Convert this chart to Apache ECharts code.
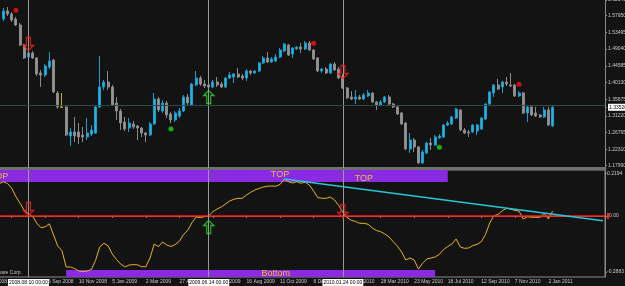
<!DOCTYPE html>
<html>
<head>
<meta charset="utf-8">
<script src="https://cdn.jsdelivr.net/npm/echarts@6/dist/echarts.min.js"></script>
<style>
html, body { margin: 0; padding: 0; background: #131313; }
#main { width: 625px; height: 286px; }
</style>
</head>
<body>
<div id="main"></div>
<script>
// weekly bars, first category is the week of 25 May 2008 (off screen)
const firstWeek = Date.UTC(2008, 4, 25);
const weekCount = 150;
const candleStart = 6; // week of 6 Jul 2008

// [open, close, low, high]
const candles = [
  [1.5707, 1.5921, 1.5654, 1.6001], [1.5921, 1.5841, 1.5787, 1.6027], [1.5841, 1.5680, 1.5627, 1.5894],
  [1.5707, 1.5547, 1.5520, 1.5761], [1.5547, 1.5014, 1.4987, 1.5600], [1.5014, 1.4667, 1.4640, 1.5040],
  [1.4693, 1.4800, 1.4667, 1.4880], [1.4800, 1.4667, 1.4640, 1.4853], [1.4667, 1.4240, 1.4187, 1.4693],
  [1.4267, 1.4213, 1.3893, 1.4347], [1.4213, 1.4453, 1.4160, 1.4507], [1.4427, 1.4587, 1.4373, 1.4827],
  [1.4613, 1.3760, 1.3733, 1.4640], [1.3733, 1.3360, 1.3306, 1.3786], [1.3360, 1.3350, 1.3333, 1.3733],
  [1.3360, 1.2613, 1.2586, 1.3386], [1.2586, 1.2693, 1.2319, 1.2799], [1.2693, 1.2586, 1.2426, 1.3093],
  [1.2693, 1.2559, 1.2373, 1.2933], [1.2613, 1.2559, 1.2426, 1.2826], [1.2559, 1.2666, 1.2479, 1.3066],
  [1.2639, 1.2746, 1.2586, 1.2879], [1.2666, 1.3360, 1.2639, 1.3413], [1.3360, 1.3893, 1.3333, 1.4720],
  [1.3893, 1.4027, 1.3813, 1.4080], [1.4027, 1.3893, 1.3813, 1.4320], [1.3893, 1.3413, 1.3386, 1.3947],
  [1.3466, 1.3253, 1.3013, 1.3626], [1.3253, 1.2933, 1.2746, 1.3306], [1.2959, 1.2773, 1.2719, 1.3093],
  [1.2799, 1.2933, 1.2693, 1.3066], [1.2906, 1.2826, 1.2773, 1.2986], [1.2853, 1.2799, 1.2479, 1.2879],
  [1.2799, 1.2666, 1.2559, 1.2826], [1.2666, 1.2613, 1.2426, 1.2693], [1.2613, 1.2906, 1.2586, 1.2959],
  [1.2906, 1.3573, 1.2879, 1.3733], [1.3573, 1.3280, 1.3226, 1.3626], [1.3253, 1.3466, 1.3200, 1.3546],
  [1.3466, 1.3146, 1.3066, 1.3520], [1.3173, 1.3013, 1.2933, 1.3226], [1.3013, 1.3200, 1.2959, 1.3253],
  [1.3119, 1.3253, 1.3066, 1.3333], [1.3253, 1.3626, 1.3226, 1.3680], [1.3626, 1.3466, 1.3413, 1.3706],
  [1.3413, 1.3973, 1.3386, 1.4000], [1.3947, 1.4133, 1.3920, 1.4320], [1.4133, 1.3973, 1.3920, 1.4187],
  [1.3973, 1.3920, 1.3866, 1.4080], [1.3947, 1.3893, 1.3840, 1.4000], [1.3893, 1.4027, 1.3866, 1.4080],
  [1.4027, 1.3947, 1.3893, 1.4160], [1.3973, 1.3893, 1.3866, 1.4027], [1.3893, 1.4133, 1.3866, 1.4160],
  [1.4133, 1.4213, 1.4107, 1.4293], [1.4160, 1.4240, 1.4000, 1.4267], [1.4240, 1.4160, 1.4133, 1.4400],
  [1.4187, 1.4133, 1.4080, 1.4240], [1.4133, 1.4320, 1.4053, 1.4373], [1.4320, 1.4267, 1.4213, 1.4347],
  [1.4267, 1.4320, 1.4240, 1.4347], [1.4320, 1.4533, 1.4293, 1.4560], [1.4533, 1.4667, 1.4507, 1.4720],
  [1.4667, 1.4560, 1.4533, 1.4827], [1.4560, 1.4640, 1.4533, 1.4693], [1.4587, 1.4693, 1.4560, 1.4773],
  [1.4693, 1.4880, 1.4667, 1.4933], [1.4853, 1.5040, 1.4827, 1.5067], [1.5014, 1.4747, 1.4720, 1.5040],
  [1.4773, 1.4933, 1.4667, 1.4960], [1.4907, 1.4960, 1.4880, 1.4987], [1.4960, 1.4907, 1.4800, 1.5067],
  [1.4907, 1.5067, 1.4880, 1.5120], [1.5067, 1.4880, 1.4853, 1.5120], [1.4880, 1.4640, 1.4613, 1.4907],
  [1.4667, 1.4320, 1.4293, 1.4693], [1.4320, 1.4373, 1.4267, 1.4400], [1.4373, 1.4267, 1.4240, 1.4427],
  [1.4267, 1.4507, 1.4240, 1.4533], [1.4507, 1.4347, 1.4320, 1.4560], [1.4373, 1.4133, 1.4107, 1.4427],
  [1.4160, 1.3866, 1.3840, 1.4240], [1.3866, 1.3600, 1.3573, 1.3893], [1.3626, 1.3573, 1.3546, 1.3786],
  [1.3573, 1.3626, 1.3440, 1.3813], [1.3626, 1.3573, 1.3546, 1.3680], [1.3573, 1.3680, 1.3546, 1.3733],
  [1.3653, 1.3733, 1.3626, 1.3813], [1.3733, 1.3493, 1.3466, 1.3760], [1.3493, 1.3413, 1.3280, 1.3520],
  [1.3413, 1.3493, 1.3386, 1.3546], [1.3493, 1.3626, 1.3466, 1.3653], [1.3626, 1.3440, 1.3413, 1.3680],
  [1.3440, 1.3360, 1.3333, 1.3466], [1.3360, 1.3173, 1.3146, 1.3386], [1.3200, 1.2906, 1.2879, 1.3226],
  [1.2933, 1.2239, 1.2213, 1.2959], [1.2239, 1.2479, 1.2133, 1.2666], [1.2479, 1.2293, 1.2159, 1.2533],
  [1.2293, 1.1866, 1.1839, 1.2319], [1.1866, 1.2159, 1.1839, 1.2213], [1.2133, 1.2399, 1.2106, 1.2426],
  [1.2399, 1.2346, 1.2213, 1.2533], [1.2346, 1.2559, 1.2319, 1.2613], [1.2533, 1.2586, 1.2506, 1.2639],
  [1.2559, 1.2879, 1.2533, 1.2906], [1.2879, 1.2933, 1.2853, 1.2986], [1.2906, 1.3093, 1.2879, 1.3119],
  [1.3066, 1.3306, 1.3039, 1.3333], [1.3280, 1.2746, 1.2719, 1.3306], [1.2746, 1.2666, 1.2639, 1.2799],
  [1.2693, 1.2666, 1.2559, 1.2746], [1.2693, 1.2879, 1.2666, 1.2906], [1.2719, 1.2879, 1.2613, 1.2906],
  [1.2773, 1.3066, 1.2746, 1.3093], [1.3039, 1.3440, 1.3013, 1.3466], [1.3440, 1.3760, 1.3413, 1.3786],
  [1.3733, 1.3947, 1.3626, 1.3973], [1.3947, 1.3840, 1.3813, 1.4107], [1.3893, 1.4027, 1.3733, 1.4053],
  [1.4027, 1.3973, 1.3920, 1.4160], [1.3947, 1.3920, 1.3893, 1.4267], [1.3947, 1.3653, 1.3626, 1.3973],
  [1.3653, 1.3733, 1.3626, 1.3786], [1.3733, 1.3200, 1.3173, 1.3760], [1.3200, 1.3360, 1.2959, 1.3386],
  [1.3360, 1.3146, 1.3119, 1.3386], [1.3200, 1.3119, 1.3093, 1.3360], [1.3146, 1.3093, 1.3066, 1.3173],
  [1.3093, 1.3280, 1.3066, 1.3360], [1.3280, 1.2879, 1.2853, 1.3360], [1.2853, 1.3352, 1.2826, 1.3386]
];
const dojiIndex = [14];
const lastPrice = 1.3352;

// oscillator, first value sits on the week before 6 Jul 2008
const oscStart = 5;
const oscillator = [
  0.1645, 0.1763, 0.1670, 0.1439, 0.1002, 0.0653, 0.0293, 0.0103, -0.0015, -0.0375,
  -0.0601, -0.0555, -0.0401, -0.0977, -0.1542, -0.1784, -0.2621, -0.2621, -0.2699, -0.2827,
  -0.2858, -0.2827, -0.2750, -0.2287, -0.1593, -0.1403, -0.1527, -0.1953, -0.2236, -0.2467,
  -0.2621, -0.2519, -0.2498, -0.2508, -0.2606, -0.2606, -0.2159, -0.1439, -0.1578, -0.1336,
  -0.1491, -0.1568, -0.1465, -0.1300, -0.0951, -0.0735, -0.0344, -0.0051, -0.0077, -0.0036,
  0.0010, 0.0221, 0.0360, 0.0463, 0.0617, 0.0771, 0.0858, 0.0910, 0.0910, 0.1080,
  0.1218, 0.1336, 0.1414, 0.1491, 0.1532, 0.1542, 0.1530, 0.1619, 0.1902, 0.1763,
  0.1696, 0.1763, 0.1680, 0.1740, 0.1593, 0.1285, 0.0946, 0.0910, 0.0910, 0.0977,
  0.0822, 0.0540, 0.0190, -0.0077, -0.0221, -0.0283, -0.0375, -0.0375, -0.0427, -0.0617,
  -0.0745, -0.0807, -0.0925, -0.1079, -0.1321, -0.1552, -0.1850, -0.2262, -0.2159, -0.2262,
  -0.2724, -0.2431, -0.2210, -0.2159, -0.2107, -0.1969, -0.1722, -0.1568, -0.1439, -0.1182,
  -0.1593, -0.1660, -0.1645, -0.1516, -0.1455, -0.1326, -0.0951, -0.0360, 0.0015, 0.0077,
  0.0267, 0.0396, 0.0350, 0.0293, 0.0249, -0.0154, -0.0036, -0.0067, -0.0067, -0.0067,
  0.0129, -0.0150, 0.0250
];

// time axis labels, one every 8 weeks from the first category
const xTickLabels = [
  '26 May 2008', '21 Jul 2008', '15 Sep 2008', '10 Nov 2008', '5 Jan 2009', '2 Mar 2009',
  '27 Apr 2009', '21 Jun 2009', '16 Aug 2009', '11 Oct 2009', '6 Dec 2009', '31 Jan 2010',
  '28 Mar 2010', '23 May 2010', '18 Jul 2010', '12 Sep 2010', '7 Nov 2010', '2 Jan 2011'
];
const xTickStep = 8;

const priceRange = [1.1732, 1.6214];
const priceTicks = [1.6214, 1.5795, 1.53495, 1.4904, 1.44585, 1.4013, 1.35675, 1.3122, 1.26765, 1.2231, 1.1799, lastPrice];
const oscRange = [-0.3135, 0.2364];
const oscTicks = [0.2194, 0, -0.2883];
const oscTickLabels = ['0.2194', '0.00', '-0.2883'];

// week index (from firstWeek) of the vertical lines and their labels
const vlineWeeks = [12, 55, 87];
const vlineLabels = ['2008.08.10 00:00', '2009.06.14 00:00', '2010.01.24 00:00'];

const peakDots = [[9, 1.5939], [80, 1.5059], [129, 1.3965]];
const troughDots = [[46, 1.2773], [110, 1.2284]];
const sellArrowsPrice = [[12, 1.5040], [87, 1.4293]];
const buyArrowsPrice = [[55, 1.3626]];
const sellArrowsOsc = [[12, 0.0360], [87, 0.0257]];
const buyArrowsOsc = [[55, -0.0565]];

// [fromWeek, toWeek, upper, lower]
const topBand = [0, 112, oscRange[1], 0.1748];
const bottomBand = [21, 109, -0.2776, oscRange[0]];
const trendLine = [[73, 0.1902], [149, -0.0242]];
const zoneTexts = [['TOP', 5, 0.2005], ['TOP', 72, 0.2107], ['TOP', 92, 0.1938], ['Bottom', 71, -0.2945]];

const months = ['Jan', 'Feb', 'Mar', 'Apr', 'May', 'Jun', 'Jul', 'Aug', 'Sep', 'Oct', 'Nov', 'Dec'];
const categories = [];
for (let j = 0; j < weekCount; j++) {
    const d = new Date(firstWeek + j * 7 * 86400000);
    categories.push(d.getUTCDate() + ' ' + months[d.getUTCMonth()] + ' ' + d.getUTCFullYear());
}

const dojiColor = '#c8ae10';
const candleData = categories.map(function (c, j) {
    const k = j - candleStart;
    const v = candles[k];
    if (!v) return ['-', '-', '-', '-'];
    if (dojiIndex.indexOf(k) >= 0) {
        return { value: v, itemStyle: { color: dojiColor, color0: dojiColor, borderColor: dojiColor, borderColor0: dojiColor } };
    }
    return v;
});
const oscData = categories.map(function (c, j) {
    const v = oscillator[j - oscStart];
    return v === undefined ? '-' : v;
});
const toPoints = arr => arr.map(p => [categories[p[0]], p[1]]);
const showTick = idx => idx % xTickStep === 0 && idx / xTickStep < xTickLabels.length;

const gray = '#8a8a8a';
const textGray = '#c8c8c8';
const font = 'Liberation Sans, Arial, sans-serif';
const downArrow = 'path://M3,0 L7,0 L7,8 L10,8 L5,13 L0,8 L3,8 Z';
const upArrow = 'path://M5,0 L10,5 L7,5 L7,13 L3,13 L3,5 L0,5 Z';

function arrowSeries(data, symbol, color, xi) {
    return {
        type: 'scatter', xAxisIndex: xi, yAxisIndex: xi, data: toPoints(data),
        symbol: symbol, symbolSize: [10, 13], silent: true, z: 5,
        itemStyle: { color: 'rgba(0,0,0,0)', borderColor: color, borderWidth: 1.3 }
    };
}

let myChart = echarts.init(document.getElementById('main'));
myChart.setOption({
    animation: false,
    backgroundColor: '#131313',
    textStyle: { fontFamily: font },
    grid: [
        { left: -24, width: 629, top: 0, height: 168, outerBoundsMode: 'none', containLabel: false },
        { left: -24, width: 629, top: 170, height: 107, show: true, borderColor: gray, borderWidth: 1, outerBoundsMode: 'none', containLabel: false }
    ],
    xAxis: [
        {
            type: 'category', gridIndex: 0, data: categories,
            axisLine: { lineStyle: { color: '#707070', width: 3 } }, axisTick: { show: false }, axisLabel: { show: false }
        },
        {
            type: 'category', gridIndex: 1, data: categories,
            axisLine: { lineStyle: { color: gray } },
            axisTick: { show: true, interval: showTick, alignWithLabel: true, length: 2, lineStyle: { color: gray } },
            axisLabel: {
                interval: showTick, fontSize: 5, color: textGray, align: 'left', margin: 2, fontFamily: font,
                formatter: (v, idx) => xTickLabels[idx / xTickStep] || ''
            }
        }
    ],
    yAxis: [
        {
            type: 'value', gridIndex: 0, position: 'right', min: priceRange[0], max: priceRange[1],
            splitLine: { show: false },
            axisLine: { show: true, lineStyle: { color: gray } },
            axisTick: { show: true, length: 2, customValues: priceTicks, lineStyle: { color: gray } },
            axisLabel: {
                customValues: priceTicks, fontSize: 5, color: textGray, margin: 3, fontFamily: font,
                formatter: function (v) {
                    return v === lastPrice ? '{cur|' + v.toFixed(5) + '}' : v.toFixed(5);
                },
                rich: { cur: { backgroundColor: '#ffffff', color: '#000000', fontSize: 5, padding: [1, 1] } }
            }
        },
        {
            type: 'value', gridIndex: 1, position: 'right', min: oscRange[0], max: oscRange[1],
            splitLine: { show: false },
            axisLine: { show: true, lineStyle: { color: gray } },
            axisTick: { show: true, length: 2, customValues: oscTicks, lineStyle: { color: gray } },
            axisLabel: {
                customValues: oscTicks, fontSize: 5, color: textGray, margin: 2, fontFamily: font,
                formatter: function (v) {
                    const i = oscTicks.indexOf(v);
                    const t = i >= 0 ? oscTickLabels[i] : '';
                    return v === 0 ? '{m|}' + t : t;
                },
                rich: { m: { backgroundColor: '#ff2020', width: 2, height: 6 } }
            }
        }
    ],
    series: [
        {
            type: 'candlestick', xAxisIndex: 0, yAxisIndex: 0, data: candleData,
            barWidth: 2.5, silent: true,
            itemStyle: { color: '#18b8e8', color0: '#939393', borderColor: '#1a9ccc', borderColor0: '#8a8a8a', borderWidth: 1 },
            markLine: {
                silent: true, symbol: 'none', animation: false, label: { show: false },
                data: vlineWeeks.map(w => ({ xAxis: categories[w], lineStyle: { color: '#9a9a9a', width: 1, type: 'solid' } }))
                    .concat([{ yAxis: lastPrice, lineStyle: { color: '#2c4a4c', width: 1, type: 'solid' } }])
            }
        },
        {
            type: 'scatter', xAxisIndex: 0, yAxisIndex: 0, data: toPoints(peakDots),
            symbol: 'circle', symbolSize: 5, itemStyle: { color: '#ff1010' }, silent: true
        },
        {
            type: 'scatter', xAxisIndex: 0, yAxisIndex: 0, data: toPoints(troughDots),
            symbol: 'circle', symbolSize: 5, itemStyle: { color: '#10e010' }, silent: true
        },
        arrowSeries(sellArrowsPrice, downArrow, '#ff2020', 0),
        arrowSeries(buyArrowsPrice, upArrow, '#20e020', 0),
        {
            type: 'line', xAxisIndex: 1, yAxisIndex: 1, data: oscData,
            symbol: 'none', silent: true, z: 3,
            lineStyle: { color: '#e6b422', width: 1 },
            markArea: {
                silent: true,
                itemStyle: { color: '#8a2be2', opacity: 1 },
                data: [topBand, bottomBand].map(b => [
                    { xAxis: categories[b[0]], yAxis: b[2] },
                    { xAxis: categories[b[1]], yAxis: b[3] }
                ])
            },
            markLine: {
                silent: true, symbol: 'none', animation: false,
                label: { show: false },
                data: [
                    { yAxis: 0, lineStyle: { color: '#ff1a1a', width: 1.5, type: 'solid' } },
                    [
                        { coord: [categories[trendLine[0][0]], trendLine[0][1]], lineStyle: { color: '#26c6d6', width: 1.5, type: 'solid' } },
                        { coord: [categories[trendLine[1][0]], trendLine[1][1]] }
                    ]
                ].concat(vlineWeeks.map((w, i) => ({
                    xAxis: categories[w],
                    lineStyle: { color: '#9a9a9a', width: 1, type: 'solid' },
                    label: {
                        show: true, position: 'start', distance: 2, formatter: vlineLabels[i],
                        backgroundColor: '#ffffff', color: '#000000', fontSize: 5, padding: [1, 1], fontFamily: font
                    }
                })))
            },
            markPoint: {
                silent: true, symbol: 'circle', symbolSize: 0,
                label: { show: true, position: 'inside', formatter: '{b}', color: '#ecc030', fontSize: 9, fontFamily: font },
                data: zoneTexts.map(t => ({ name: t[0], coord: [categories[t[1]], t[2]] }))
            }
        },
        arrowSeries(sellArrowsOsc, downArrow, '#ff2020', 1),
        arrowSeries(buyArrowsOsc, upArrow, '#20e020', 1)
    ],
    graphic: [
        {
            type: 'text', right: 603, top: 270, silent: true,
            style: { text: 'MetaQuotes Software Corp.', fill: '#c0c0c0', font: '5px ' + font }
        }
    ]
});
</script>
</body>
</html>
